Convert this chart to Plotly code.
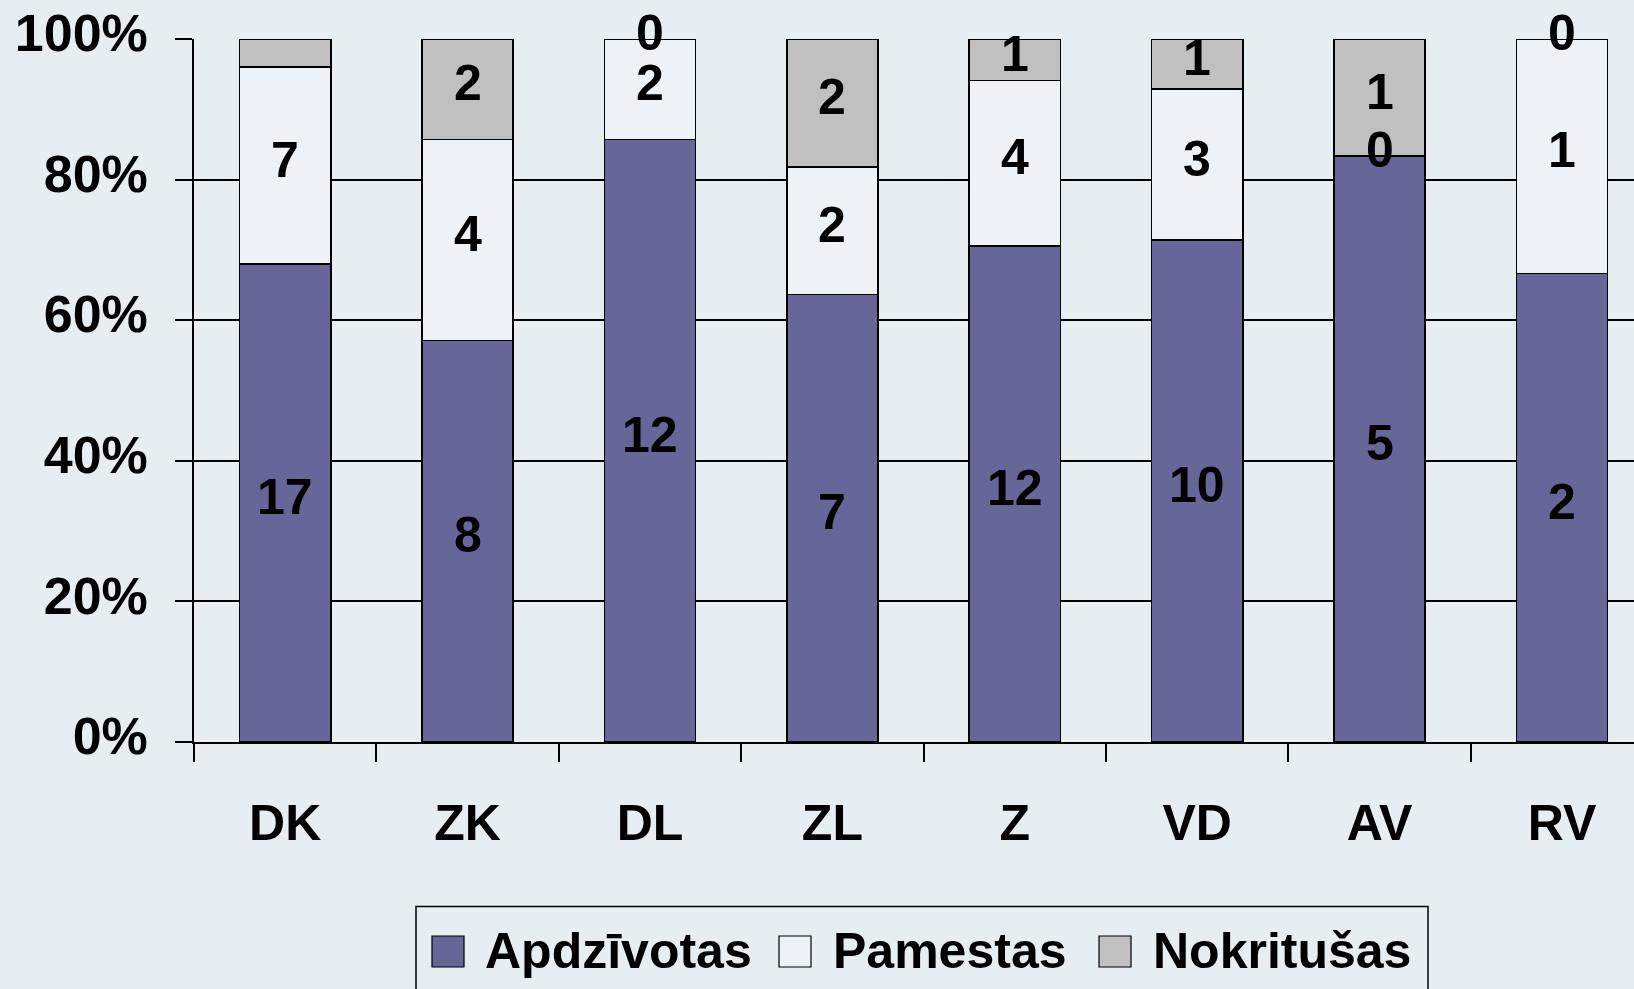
import plotly.graph_objects as go

categories = ["DK", "ZK", "DL", "ZL", "Z", "VD", "AV", "RV"]
apdzivotas = [17, 8, 12, 7, 12, 10, 5, 2]
pamestas = [7, 4, 2, 2, 4, 3, 0, 1]
nokritusas = [1, 2, 0, 2, 1, 1, 1, 0]
# label shown on the chart for each segment ("" = not shown)
apdz_labels = ["17", "8", "12", "7", "12", "10", "5", "2"]
pam_labels = ["7", "4", "2", "2", "4", "3", "0", "1"]
nokr_labels = ["", "2", "0", "2", "1", "1", "1", "0"]
series_names = ["Apdzīvotas", "Pamestas", "Nokritušas"]
y_ticks = [0, 20, 40, 60, 80, 100]
y_ticktext = ["0%", "20%", "40%", "60%", "80%", "100%"]

colors = ["#666699", "#ECF2F5", "#C0C0C0"]
BG = "#E6EEF2"
FONT = "Liberation Sans, Arial, sans-serif"
FS = 50

W, H = 1634, 989
ML, MR, MT, MB = 194, 0, 39, 247
PW = W - ML - MR
PH = H - MT - MB


def xp(px):
    return (px - ML) / PW


def yp(py):
    return (H - MB - py) / PH


fig = go.Figure()
for name, vals, col in zip(series_names, [apdzivotas, pamestas, nokritusas], colors):
    fig.add_trace(go.Bar(
        x=categories, y=vals, name=name,
        marker=dict(color=col, line=dict(color="black", width=1.5)),
        showlegend=False, hoverinfo="skip",
    ))

# data labels centred on each segment (percent scale)
annotations = []
for i, cat in enumerate(categories):
    total = apdzivotas[i] + pamestas[i] + nokritusas[i]
    base = 0.0
    for vals, labs in [(apdzivotas, apdz_labels), (pamestas, pam_labels), (nokritusas, nokr_labels)]:
        h = vals[i] / total * 100
        if labs[i]:
            annotations.append(dict(
                x=cat, y=base + h / 2, xref="x", yref="y", text=labs[i],
                showarrow=False, yshift=6,
                font=dict(family=FONT, size=FS, color="black", weight="bold"),
            ))
        base += h

# legend (drawn manually to match large square keys)
shapes = [dict(type="rect", xref="paper", yref="paper",
               x0=xp(416), x1=xp(1428), y0=yp(1010), y1=yp(906.5),
               line=dict(color="black", width=1.5), fillcolor="rgba(0,0,0,0)", layer="above")]
sq_x = [432, 779, 1099]
tx_x = [483, 831, 1151]
for name, col, sx, tx in zip(series_names, colors, sq_x, tx_x):
    shapes.append(dict(type="rect", xref="paper", yref="paper",
                       x0=xp(sx), x1=xp(sx + 32), y0=yp(967), y1=yp(936),
                       line=dict(color="black", width=1.2), fillcolor=col, layer="above"))
    annotations.append(dict(
        x=xp(tx), y=yp(951), xref="paper", yref="paper", text=name,
        xanchor="left", yanchor="middle", showarrow=False,
        font=dict(family=FONT, size=FS, color="black", weight="bold"),
    ))

fig.update_layout(
    width=W, height=H,
    margin=dict(l=ML, r=MR, t=MT, b=MB, pad=0),
    barmode="stack", barnorm="percent", bargap=0.5,
    paper_bgcolor=BG, plot_bgcolor=BG,
    font=dict(family=FONT, size=FS, color="black", weight="bold"),
    annotations=annotations, shapes=shapes,
    showlegend=False,
)
fig.update_xaxes(
    type="category", range=[-0.5, -0.5 + PW / 182.4],
    showline=True, linecolor="black", linewidth=1.5,
    ticks="outside", tickson="boundaries", ticklen=18, tickcolor="black", tickwidth=1.5,
    showgrid=False, zeroline=False, ticklabelstandoff=36,
    tickfont=dict(family=FONT, size=FS, color="black", weight="bold"),
)
fig.update_yaxes(
    range=[0, 100], tickmode="array", tickvals=y_ticks, ticktext=y_ticktext,
    showline=True, linecolor="black", linewidth=1.5,
    showgrid=True, gridcolor="black", gridwidth=1.5,
    ticks="outside", ticklen=17, tickcolor="black", tickwidth=1.5,
    zeroline=False, ticklabelstandoff=17, ticklabelshift=-6,
    tickfont=dict(family=FONT, size=52, color="black", weight="bold"),
)

fig.write_html(
    "out.html",
    config={"displayModeBar": False},
    post_script="document.body.style.margin='0';document.body.style.background='%s';" % BG,
)
